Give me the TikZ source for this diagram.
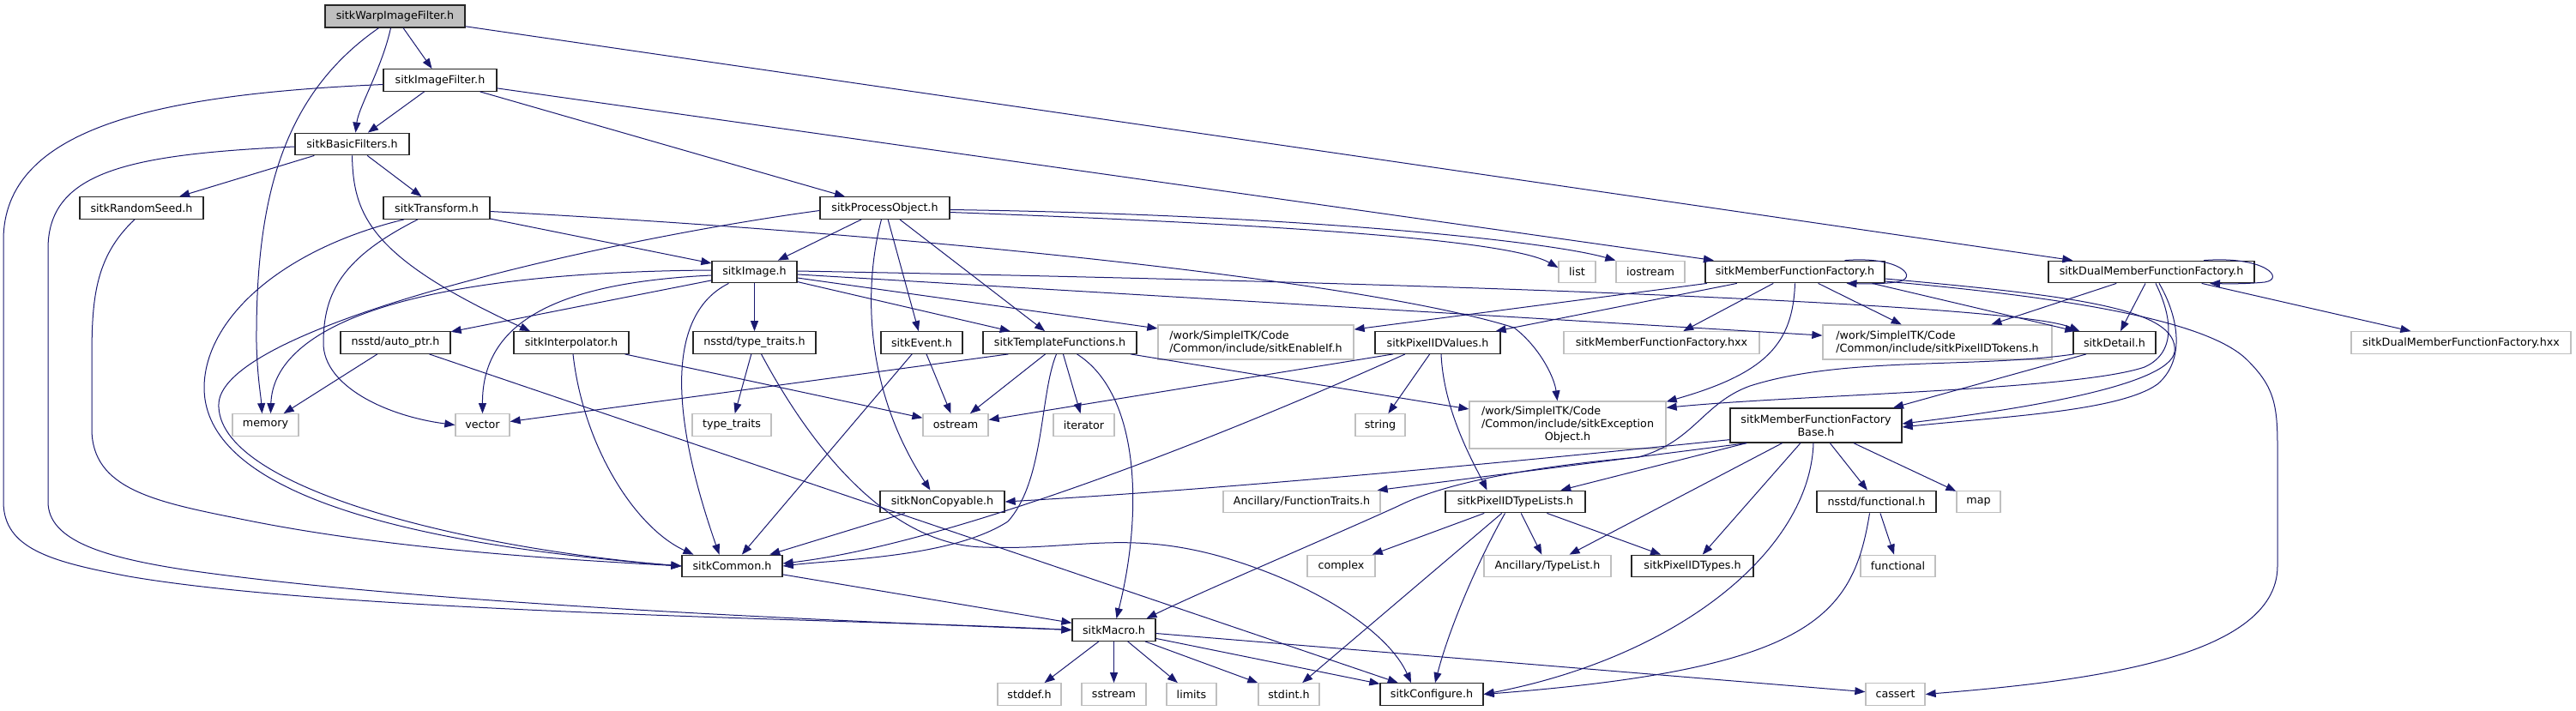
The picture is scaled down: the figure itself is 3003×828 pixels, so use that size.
\documentclass[tikz,border=0pt]{standalone}
\usepackage{fontspec}
\setmainfont{DejaVu Sans}
\usetikzlibrary{arrows.meta}
\definecolor{kantenblau}{HTML}{191970}
\definecolor{randgrau}{HTML}{BFBFBF}

\begin{document}
\begin{tikzpicture}[x=1pt,y=-1pt,
		datei/.style={draw=black!85, line width=1.3pt, fill=white, inner sep=0pt, minimum height=25.5pt, align=center, font=\fontsize{12.7}{15}\selectfont},
		extern/.style={datei, draw=randgrau},
		wurzel/.style={datei, fill=randgrau},
		kante/.style={draw=kantenblau, line width=1pt, -{Triangle[length=12pt,width=9pt]}}]
			\useasboundingbox (0,0) rectangle (3003,828);
			% Obere Reihen
			\node[wurzel, minimum width=163pt, minimum height=26pt] (warp) at (460.5,19) {sitkWarpImageFilter.h};
			\node[datei, minimum width=132pt] (imgflt) at (513,93.5) {sitkImageFilter.h};
			\node[datei, minimum width=133pt] (basic) at (410.5,168) {sitkBasicFilters.h};
			\node[datei, minimum width=144pt] (seed) at (165,242.5) {sitkRandomSeed.h};
			\node[datei, minimum width=124pt] (trans) at (509,242.5) {sitkTransform.h};
			\node[datei, minimum width=151pt] (procobj) at (1031.5,242.5) {sitkProcessObject.h};
			% Reihe bei y=317
			\node[datei, minimum width=99pt] (image) at (879.5,317) {sitkImage.h};
			\node[extern, minimum width=43pt] (list) at (1838.5,317) {list};
			\node[extern, minimum width=80pt] (iostream) at (1924,317) {iostream};
			\node[datei, minimum width=209pt] (mff) at (2092.5,317) {sitkMemberFunctionFactory.h};
			\node[datei, minimum width=240pt] (dmff) at (2508,317) {sitkDualMemberFunctionFactory.h};
			% Reihe bei y=400
			\node[datei, minimum width=128pt] (autoptr) at (461,399.5) {nsstd/auto\_ptr.h};
			\node[datei, minimum width=134pt] (interp) at (666,399.5) {sitkInterpolator.h};
			\node[datei, minimum width=143pt] (typetr) at (879.5,399.5) {nsstd/type\_traits.h};
			\node[datei, minimum width=95pt] (event) at (1074.5,399.5) {sitkEvent.h};
			\node[datei, minimum width=179pt] (tmpl) at (1235.5,399.5) {sitkTemplateFunctions.h};
			\node[extern, align=left, minimum width=228pt, minimum height=40pt] (enableif) at (1464,399) {/work/SimpleITK/Code\\/Common/include/sitkEnableIf.h};
			\node[datei, minimum width=146pt] (pidvalues) at (1676,399.5) {sitkPixelIDValues.h};
			\node[extern, minimum width=228pt] (mffhxx) at (1937,399.5) {sitkMemberFunctionFactory.hxx};
			\node[extern, align=left, minimum width=267pt, minimum height=40pt] (tokens) at (2258.5,399) {/work/SimpleITK/Code\\/Common/include/sitkPixelIDTokens.h};
			\node[datei, minimum width=96pt] (detail) at (2465,399.5) {sitkDetail.h};
			\node[extern, minimum width=256pt] (dmffhxx) at (2869,399.5) {sitkDualMemberFunctionFactory.hxx};
			% Reihe bei y=496
			\node[extern, minimum width=77pt] (memory) at (309.5,495.5) {memory};
			\node[extern, minimum width=63pt] (vector) at (562.5,495.5) {vector};
			\node[extern, minimum width=92pt] (typetraits) at (853,495.5) {type\_traits};
			\node[extern, minimum width=76pt] (ostream) at (1114,495.5) {ostream};
			\node[extern, minimum width=71pt] (iterator) at (1263.5,495.5) {iterator};
			\node[extern, minimum width=58pt] (string) at (1609,495.5) {string};
			\node[extern, minimum width=229pt, minimum height=55pt] (excobj) at (1827.5,495.5) {\begin{tabular}{@{}l@{}}/work/SimpleITK/Code\\/Common/include/sitkException\\\multicolumn{1}{@{}c@{}}{Object.h}\end{tabular}};
			\node[datei, minimum width=200pt, minimum height=40pt] (mffbase) at (2117,496) {sitkMemberFunctionFactory\\Base.h};
			% Reihe bei y=585
			\node[datei, minimum width=145pt] (nocopy) at (1098.5,585) {sitkNonCopyable.h};
			\node[extern, minimum width=183pt] (functraits) at (1517.5,585) {Ancillary/FunctionTraits.h};
			\node[datei, minimum width=163pt] (typelists) at (1766.5,585) {sitkPixelIDTypeLists.h};
			\node[datei, minimum width=139pt] (nsfunc) at (2187.5,585) {nsstd/functional.h};
			\node[extern, minimum width=51pt] (map) at (2306.5,585) {map};
			% Reihe bei y=660
			\node[datei, minimum width=117pt] (common) at (853.5,660) {sitkCommon.h};
			\node[extern, minimum width=79pt] (complex) at (1563.5,660) {complex};
			\node[extern, minimum width=148pt] (typelist) at (1804,660) {Ancillary/TypeList.h};
			\node[datei, minimum width=142pt] (pidtypes) at (1973,660) {sitkPixelIDTypes.h};
			\node[extern, minimum width=87pt] (functional) at (2212.5,660) {functional};
			% Untere Reihen
			\node[datei, minimum width=97pt] (macro) at (1298.5,734.5) {sitkMacro.h};
			\node[extern, minimum width=74pt] (stddef) at (1200,809.5) {stddef.h};
			\node[extern, minimum width=75pt] (sstream) at (1298.5,809.5) {sstream};
			\node[extern, minimum width=58pt] (limits) at (1389,809.5) {limits};
			\node[extern, minimum width=71pt] (stdint) at (1502.5,809.5) {stdint.h};
			\node[datei, minimum width=120pt] (configure) at (1669,809.5) {sitkConfigure.h};
			\node[extern, minimum width=69pt] (cassert) at (2209.5,809.5) {cassert};
			% Kanten sitkWarpImageFilter.h
			\draw[kante] (warp) -- (imgflt);
			\draw[kante] ([xshift=-5pt]warp.south) .. controls (445,80) and (418,125) .. ([xshift=4pt]basic.north);
			\draw[kante] ([xshift=-19pt]warp.south) .. controls (330,110) and (298,230) .. (299,400) .. controls (300,440) and (304,460) .. ([xshift=-4pt]memory.north);
			\draw[kante] (warp) -- (dmff);
			% Kanten sitkImageFilter.h
			\draw[kante] (imgflt) -- (basic);
			\draw[kante] ([yshift=-5pt]imgflt.west) .. controls (180,110) and (4,150) .. (4,280) -- (4,585) .. controls (4,640) and (60,655) .. (150,672) .. controls (400,715) and (1000,722) .. (macro.west);
			\draw[kante] (imgflt) -- (procobj);
			\draw[kante] (imgflt) -- (mff);
			% Kanten sitkBasicFilters.h
			\draw[kante] ([yshift=-3pt]basic.west) .. controls (150,180) and (56,200) .. (56,290) -- (56,585) .. controls (56,630) and (120,650) .. (220,665) .. controls (500,705) and (1000,725) .. (macro.west);
			\draw[kante] (basic) -- (seed);
			\draw[kante] (basic) -- (trans);
			\draw[kante] (basic.south) .. controls (412,250) and (430,300) .. ([xshift=-48pt]interp.north);
			% Kanten sitkRandomSeed.h
			\draw[kante] ([xshift=-8pt]seed.south) .. controls (110,300) and (107,350) .. (107,420) -- (107,500) .. controls (107,570) and (180,585) .. (280,605) .. controls (450,640) and (650,652) .. (common.west);
			% Kanten sitkTransform.h
			\draw[kante] (trans) -- (image);
			\draw[kante] ([xshift=-22pt]trans.south) .. controls (400,300) and (377,340) .. (377,400) .. controls (377,450) and (450,485) .. (vector.west);
			\draw[kante] ([xshift=-38pt]trans.south) .. controls (330,290) and (240,370) .. (238,450) .. controls (236,560) and (420,630) .. (common.west);
			\draw[kante] ([yshift=-4pt]trans.east) .. controls (1100,275) and (1600,330) .. (1765,382) .. controls (1795,405) and (1812,440) .. ([xshift=-12pt]excobj.north);
			% Kanten sitkProcessObject.h
			\draw[kante] ([yshift=-3pt]procobj.west) .. controls (700,280) and (262,380) .. (255,470) .. controls (250,570) and (550,640) .. (common.west);
			\draw[kante] (procobj) -- (image);
			\draw[kante] (procobj) -- (event);
			\draw[kante] (procobj) -- (tmpl);
			\draw[kante] ([xshift=-4pt]procobj.south) .. controls (1008,330) and (1005,450) .. ([xshift=-14pt]nocopy.north);
			\draw[kante] ([yshift=-2pt]procobj.east) .. controls (1500,250) and (1800,280) .. (iostream.north west);
			\draw[kante] ([yshift=-5pt]procobj.east) .. controls (1500,262) and (1760,280) .. ([yshift=5pt]list.west);
			% Kanten sitkImage.h
			\draw[kante] ([yshift=2pt]image.west) .. controls (420,318) and (318,400) .. ([xshift=6pt]memory.north);
			\draw[kante] ([yshift=-4pt]image.west) .. controls (640,330) and (562,380) .. (vector.north);
			\draw[kante] (image) -- (autoptr);
			\draw[kante] (image) -- (typetr);
			\draw[kante] ([xshift=-30pt]image.south) .. controls (790,360) and (770,450) .. ([xshift=-15pt]common.north);
			\draw[kante] (image) -- (tmpl);
			\draw[kante] (image) -- (enableif);
			\draw[kante] (image) -- (tokens);
			\draw[kante] ([yshift=1pt]image.east) .. controls (1700,330) and (2350,355) .. ([xshift=8pt]detail.north west);
			% Kanten nsstd/auto_ptr.h
			\draw[kante] (autoptr) -- (memory);
			\draw[kante] (autoptr) -- (configure);
			% Kanten sitkInterpolator.h
			\draw[kante] ([xshift=2pt]interp.south) .. controls (680,520) and (740,615) .. ([xshift=-45pt]common.north);
			\draw[kante] (interp) -- (ostream);
			% Kanten nsstd/type_traits.h
			\draw[kante] (typetr) -- (typetraits);
			\draw[kante] ([xshift=8pt]typetr.south) .. controls (950,530) and (1040,635) .. (1146,638) .. controls (1250,642) and (1310,618) .. (1420,648) .. controls (1540,682) and (1620,740) .. ([xshift=-24pt]configure.north);
			% Kanten sitkEvent.h
			\draw[kante] (event) -- (common);
			\draw[kante] (event) -- (ostream);
			% Kanten sitkTemplateFunctions.h
			\draw[kante] ([xshift=-60pt]tmpl.south) -- ([yshift=4pt]vector.east);
			\draw[kante] (tmpl) -- (ostream);
			\draw[kante] (tmpl) -- (iterator);
			\draw[kante] ([xshift=-4pt]tmpl.south) .. controls (1212,460) and (1218,560) .. (1175,608) .. controls (1110,650) and (980,652) .. (common.east);
			\draw[kante] ([xshift=20pt]tmpl.south) .. controls (1330,460) and (1332,600) .. ([xshift=3pt]macro.north);
			\draw[kante] (tmpl) -- (excobj);
			% Kanten sitkNonCopyable.h, sitkCommon.h
			\draw[kante] (nocopy) -- (common);
			\draw[kante] (common) -- (macro);
			% Kanten sitkMacro.h
			\draw[kante] (macro) -- (stddef);
			\draw[kante] (macro) -- (sstream);
			\draw[kante] (macro) -- (limits);
			\draw[kante] (macro) -- (stdint);
			\draw[kante] (macro) -- (configure);
			\draw[kante] (macro) -- (cassert);
			% Kanten sitkMemberFunctionFactory.h
			\draw[kante] ([xshift=58pt]mff.north) .. controls (2215,298) and (2240,325) .. (2210,329) .. controls (2195,331) and (2175,331) .. ([xshift=60pt]mff.south);
			\draw[kante] (mff) -- (enableif);
			\draw[kante] (mff) -- (pidvalues);
			\draw[kante] (mff) -- (mffhxx);
			\draw[kante] (mff) -- (tokens);
			\draw[kante] ([xshift=90pt]mff.south) -- ([xshift=3pt]detail.north west);
			\draw[kante] (mff.south) .. controls (2090,400) and (2060,435) .. ([yshift=-1pt]excobj.north east);
			\draw[kante] ([yshift=-8pt]mff.east) .. controls (2420,345) and (2540,360) .. (2535,410) .. controls (2530,450) and (2350,478) .. ([yshift=2pt]mffbase.east);
			\draw[kante] ([yshift=-11pt]mff.east) .. controls (2450,350) and (2580,380) .. (2620,420) .. controls (2650,450) and (2655,470) .. (2655,520) -- (2655,660) .. controls (2655,770) and (2420,795) .. (cassert.east);
			% Kanten sitkDualMemberFunctionFactory.h
			\draw[kante] ([xshift=61pt]dmff.north) .. controls (2640,298) and (2665,325) .. (2640,329) .. controls (2620,331) and (2600,331) .. ([xshift=68pt]dmff.south);
			\draw[kante] (dmff) -- (tokens);
			\draw[kante] (dmff) -- (detail);
			\draw[kante] (dmff) -- (dmffhxx);
			\draw[kante] ([xshift=9pt]dmff.south) .. controls (2540,370) and (2548,420) .. (2515,448) .. controls (2470,480) and (2330,486) .. ([yshift=-2pt]mffbase.east);
			\draw[kante] ([xshift=5pt]dmff.south) .. controls (2530,365) and (2540,410) .. (2500,428) .. controls (2420,455) and (2100,460) .. ([yshift=-8pt]excobj.north east);
			% Kanten sitkDetail.h
			\draw[kante] ([xshift=-33pt]detail.south) -- ([xshift=90pt]mffbase.north);
			\draw[kante] ([xshift=-47pt]detail.south) .. controls (2300,430) and (2150,415) .. (2040,450) .. controls (1985,470) and (1975,515) .. (1910,533) .. controls (1800,543) and (1690,560) .. (1630,590) .. controls (1560,622) and (1400,690) .. ([xshift=38pt]macro.north);
			% Kanten sitkMemberFunctionFactoryBase.h
			\draw[kante] ([xshift=20pt]mffbase.south west) -- ([xshift=-4pt]functraits.north east);
			\draw[kante] ([yshift=4pt]mffbase.south west) .. controls (1700,545) and (1400,572) .. (nocopy.east);
			\draw[kante] (mffbase) -- (typelists);
			\draw[kante] (mffbase) -- (typelist);
			\draw[kante] (mffbase) -- (pidtypes);
			\draw[kante] ([xshift=-3pt]mffbase.south) .. controls (2110,640) and (1960,765) .. (configure.east);
			\draw[kante] (mffbase) -- (nsfunc);
			\draw[kante] (mffbase) -- (map);
			% Kanten sitkPixelIDValues.h
			\draw[kante] ([xshift=-52pt]pidvalues.south) -- ([yshift=6pt]ostream.east);
			\draw[kante] ([xshift=-38pt]pidvalues.south) .. controls (1400,520) and (1100,635) .. ([yshift=3pt]common.east);
			\draw[kante] (pidvalues) -- (string);
			\draw[kante] ([xshift=4pt]pidvalues.south) .. controls (1683,480) and (1718,540) .. ([xshift=-33pt]typelists.north);
			% Kanten sitkPixelIDTypeLists.h
			\draw[kante] (typelists) -- (complex);
			\draw[kante] (typelists) -- (typelist);
			\draw[kante] (typelists) -- (pidtypes);
			\draw[kante] (typelists) -- (stdint);
			\draw[kante] ([xshift=-12pt]typelists.south) .. controls (1725,650) and (1690,730) .. ([xshift=4pt]configure.north);
			% Kanten nsstd/functional.h
			\draw[kante] ([xshift=-8pt]nsfunc.south) .. controls (2160,720) and (2110,780) .. (configure.east);
			\draw[kante] (nsfunc) -- (functional);
		\end{tikzpicture}
\end{document}
